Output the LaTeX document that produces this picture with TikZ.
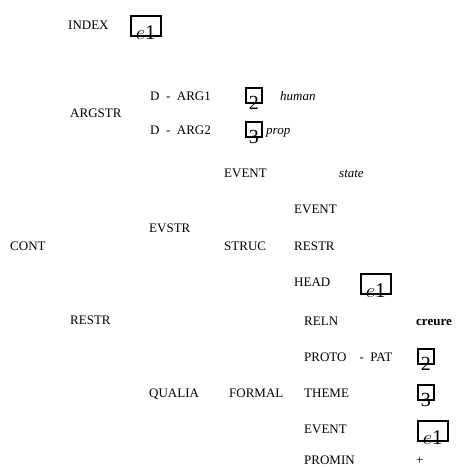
\documentclass[tikz,border=0pt]{standalone}
\usepackage{fontspec}
\setmainfont{Liberation Serif}
\begin{document}
\begin{tikzpicture}[x=1pt,y=-1pt,
  lbl/.style={anchor=base west,inner sep=0pt,font=\fontsize{13}{15}\selectfont},
  itl/.style={lbl,font=\fontsize{13}{15}\selectfont\itshape},
  bld/.style={lbl,font=\fontsize{13}{15}\selectfont\bfseries},
  ebox/.style={draw,line width=1.5pt,minimum width=30pt,minimum height=20pt,inner sep=0pt,anchor=north west,
    font=\fontsize{21}{22}\selectfont},
  nbox/.style={draw,line width=1.5pt,minimum width=16pt,minimum height=15pt,inner sep=0pt,anchor=north west,
    font=\fontsize{20}{21}\selectfont}]
\useasboundingbox (0,0) rectangle (458,467);
\newcommand{\etag}{\smash{\raisebox{-14pt}{$e\mathrm{1}$}}}
\newcommand{\ntag}[1]{\smash{\raisebox{-14pt}{\rmfamily #1}}}
% top
\node[lbl] (index) at (68,29) {INDEX};
\node[ebox] (b1) at (130,15) {\etag};
\node[lbl] (argstr) at (70,117) {ARGSTR};
\node[lbl] (darg1) at (150,100) {D\ \ -\ \ ARG1};
\node[nbox] (b2) at (245,87) {\ntag{2}};
\node[itl] (human) at (280,100) {human};
\node[lbl] (darg2) at (150,134) {D\ \ -\ \ ARG2};
\node[nbox] (b3) at (245,121) {\ntag{3}};
\node[itl] (prop) at (266,134) {prop};
% evstr
\node[lbl] (event1) at (224,177) {EVENT};
\node[itl] (state) at (339,177) {state};
\node[lbl] (evstr) at (149,232) {EVSTR};
\node[lbl] (event2) at (294,213) {EVENT};
\node[lbl] (cont) at (10,250) {CONT};
\node[lbl] (struc) at (224,250) {STRUC};
\node[lbl] (restr1) at (294,250) {RESTR};
\node[lbl] (head) at (294,286) {HEAD};
\node[ebox] (b4) at (360,273) {\etag};
% restr
\node[lbl] (restr2) at (70,324) {RESTR};
\node[lbl] (reln) at (304,325) {RELN};
\node[bld] (creure) at (416,325) {creure};
\node[lbl] (proto) at (304,361) {PROTO\ \ \ \ -\ \ PAT};
\node[nbox] (b5) at (417,348) {\ntag{2}};
\node[lbl] (qualia) at (149,397) {QUALIA};
\node[lbl] (formal) at (229,397) {FORMAL};
\node[lbl] (theme) at (304,397) {THEME};
\node[nbox] (b6) at (417,384) {\ntag{3}};
\node[lbl] (event3) at (304,433) {EVENT};
\node[ebox] (b7) at (417,420) {\etag};
\node[lbl] (promin) at (304,464) {PROMIN};
\node[lbl] (plus) at (416,464) {+};
\end{tikzpicture}
\end{document}
